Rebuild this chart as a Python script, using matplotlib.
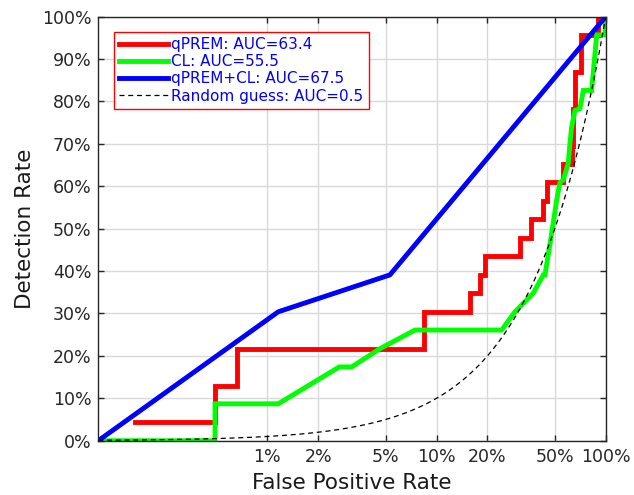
import numpy as np
import matplotlib
matplotlib.use("Agg")
import matplotlib.pyplot as plt
from matplotlib.ticker import FixedLocator, FixedFormatter, NullLocator

# Curvas ROC (FPR en fraccion, deteccion en %)
qprem_fpr = [0.00166, 0.0049, 0.0049, 0.00658, 0.00658, 0.0843, 0.0843, 0.1576, 0.1576,
             0.1806, 0.1806, 0.1934, 0.1934, 0.3113, 0.3113, 0.360, 0.360, 0.4278, 0.4278,
             0.4516, 0.4516, 0.5569, 0.5569, 0.6295, 0.6295, 0.6434, 0.6434, 0.6584, 0.6584,
             0.7145, 0.7145, 0.904, 0.904, 1.0]
qprem_tpr = [4.3, 4.3, 13.0, 13.0, 21.7, 21.7, 30.4, 30.4, 34.8,
             34.8, 39.1, 39.1, 43.5, 43.5, 47.8, 47.8, 52.2, 52.2, 56.5,
             56.5, 60.9, 60.9, 65.2, 65.2, 69.6, 69.6, 78.3, 78.3, 87.0,
             87.0, 95.7, 95.7, 100.0, 100.0]

cl_fpr = [0.001, 0.0049, 0.0049, 0.01159, 0.0266, 0.0315, 0.0463, 0.0746, 0.2427, 0.2909,
          0.3733, 0.4278, 0.4378, 0.4793, 0.5132, 0.5368, 0.5614, 0.601, 0.6149, 0.6295,
          0.6584, 0.7047, 0.7374, 0.8264, 0.8848, 0.9906, 1.0]
cl_tpr = [0.0, 0.0, 8.7, 8.7, 17.4, 17.4, 21.7, 26.1, 26.1, 30.4,
          34.8, 39.1, 39.1, 48.9, 56.7, 60.9, 61.5, 65.4, 70.1, 74.0,
          77.9, 78.3, 82.6, 82.6, 95.7, 95.7, 100.0]

both_fpr = [0.001, 0.01159, 0.0530, 1.0]
both_tpr = [0.0, 30.4, 39.1, 100.0]

labels = ["qPREM: AUC=63.4", "CL: AUC=55.5", "qPREM+CL: AUC=67.5", "Random guess: AUC=0.5"]
xticks = [0.01, 0.02, 0.05, 0.1, 0.2, 0.5, 1.0]
xtick_labels = ["1%", "2%", "5%", "10%", "20%", "50%", "100%"]
yticks = [0, 10, 20, 30, 40, 50, 60, 70, 80, 90, 100]

fig = plt.figure(figsize=(6.34, 4.95), dpi=100)
ax = fig.add_axes([0.155, 0.1097, 0.8003, 0.8566])

ax.plot(qprem_fpr, qprem_tpr, color="#ff0000", lw=3.5, label=labels[0], solid_joinstyle="miter")
ax.plot(cl_fpr, cl_tpr, color="#00ff00", lw=3.5, label=labels[1], solid_joinstyle="miter")
ax.plot(both_fpr, both_tpr, color="#0000ff", lw=3.5, label=labels[2])
# linea de azar: deteccion = FPR
rand_x = np.logspace(-3, 0, 300)
ax.plot(rand_x, rand_x * 100, color="black", lw=0.9, ls=(0, (4, 3)), label=labels[3])

ax.set_xscale("log")
ax.set_xlim(0.001, 1.0)
ax.set_ylim(0, 100)
ax.xaxis.set_major_locator(FixedLocator(xticks))
ax.xaxis.set_major_formatter(FixedFormatter(xtick_labels))
ax.xaxis.set_minor_locator(NullLocator())
ax.set_yticks(yticks)
ax.set_yticklabels([f"{v}%" for v in yticks])

ax.tick_params(direction="in", length=4, width=1, top=True, right=True,
               labelsize=12.5, colors="#262626", pad=5)
ax.grid(True, color="#d9d9d9", lw=1)
for s in ax.spines.values():
    s.set_color("#262626")
    s.set_linewidth(1)

ax.set_xlabel("False Positive Rate", fontsize=15.5, color="#1a1a1a", labelpad=5)
ax.set_ylabel("Detection Rate", fontsize=15.5, color="#1a1a1a", labelpad=5)

leg = ax.legend(loc="upper left", bbox_to_anchor=(0.031, 0.965), borderaxespad=0,
                fontsize=11, labelcolor="blue", fancybox=False, framealpha=1,
                edgecolor="red", handlelength=3.2, handletextpad=0.2,
                labelspacing=0.15, borderpad=0.35)
leg.get_frame().set_linewidth(1)

fig.savefig("out.png", dpi=100)
